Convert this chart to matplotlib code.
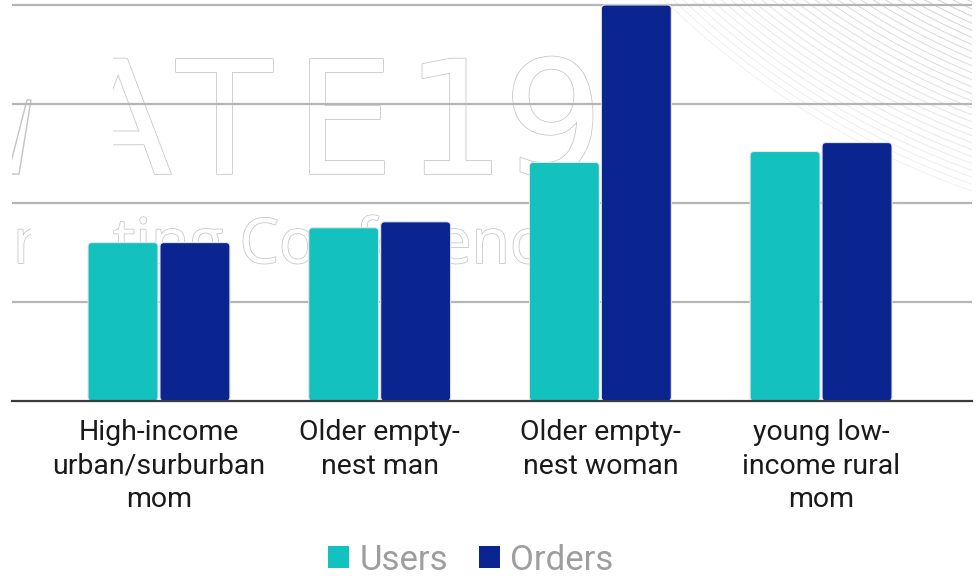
import matplotlib
matplotlib.use("Agg")
import matplotlib.pyplot as plt
import matplotlib.patheffects as pe
import numpy as np
from matplotlib.patches import FancyBboxPatch, Patch, Polygon, Rectangle

plt.rcParams['font.family'] = ['Roboto', 'DejaVu Sans']

# données
categories = ["High-income\nurban/surburban\nmom", "Older empty-\nnest man",
              "Older empty-\nnest woman", "young low-\nincome rural\nmom"]
users = [1.60, 1.75, 2.41, 2.52]
orders = [1.60, 1.81, 4.00, 2.61]
series_names = ["Users", "Orders"]

TEAL = "#13c1bf"
NAVY = "#0a2490"
W, H = 977, 576


def px(x, y):
    # pixels de l'image -> fraction de la figure
    return x / W, 1 - y / H


fig = plt.figure(figsize=(W / 100, H / 100), dpi=100)
ax = fig.add_axes([12 / W, (H - 401) / H, 960 / W, 401 / H])
ax.set_xlim(-0.666, 3.684)
ax.set_ylim(0, 4.05)

# fond décoratif (filigrane)
outline = [pe.Stroke(linewidth=1.1, foreground="#c4c4c4"), pe.Normal()]
for ch, x in zip("ATE19", [64, 176, 294, 405, 503]):
    ax.text(*px(x, 174), ch, transform=fig.transFigure, fontsize=114,
            family="DejaVu Sans", color="white",
            ha="left", va="baseline", zorder=0.1, path_effects=outline)
ax.text(*px(113, 263), "ting Conference", transform=fig.transFigure,
        fontsize=45, family="Open Sans", color="white", ha="left",
        va="baseline", zorder=0.1, path_effects=outline)
ax.text(*px(13, 263), "r", transform=fig.transFigure, fontsize=45,
        family="Open Sans", color="white", ha="left", va="baseline",
        zorder=0.1, path_effects=outline)
# cache blanc sur la gauche
ax.add_patch(Rectangle(px(31, 275), 82 / W, 230 / H, transform=fig.transFigure,
                       facecolor="white", edgecolor="none", zorder=0.15))
ax.add_patch(Polygon([px(8, 174), px(19, 174), px(31, 100), px(27, 100)],
                     closed=True, transform=fig.transFigure, facecolor="white",
                     edgecolor="#c4c4c4", lw=1.0, zorder=0.16))

# arcs en haut à droite
cx, cy = 1250, -600
radii = np.arange(650, 840, 6.5)
for i, r in enumerate(radii):
    t = np.linspace(np.pi / 2, np.pi, 400)
    xs = cx + r * np.cos(t)
    ys = cy + r * np.sin(t)
    fx, fy = px(xs, ys)
    a = 0.85 - 0.6 * i / (len(radii) - 1)
    ax.plot(fx, fy, transform=fig.transFigure, color="#c4c4c4", lw=0.7,
            alpha=a, zorder=0.12)

# barres
x = np.arange(len(categories))
bw = 0.317
off = 0.163
b1 = ax.bar(x - off, users, bw, color=TEAL, zorder=2)
b2 = ax.bar(x + off, orders, bw, color=NAVY, zorder=2)

rs = 0.018
asp = (1 / 99) / (1 / 220.67)
for bars, col in [(b1, TEAL), (b2, NAVY)]:
    for rect in bars:
        bx, by = rect.get_x(), rect.get_y()
        bwid, bh = rect.get_width(), rect.get_height()
        rect.set_visible(False)
        ax.add_patch(FancyBboxPatch((bx, by), bwid, bh,
                                    boxstyle=f"round,pad=0,rounding_size={rs}",
                                    mutation_aspect=asp, facecolor=col,
                                    edgecolor="#e6e6e6", lw=0.8, zorder=2))

# axes
ax.set_yticks([1, 2, 3, 4])
ax.set_yticklabels([])
ax.yaxis.grid(True, color="#b5b5b5", lw=1.6, zorder=0.5)
ax.set_axisbelow(True)
ax.set_xticks(x)
ax.set_xticklabels(categories, fontsize=20.5, color="#1a1a1a", linespacing=1.32)
ax.tick_params(axis="both", length=0)
ax.tick_params(axis="x", pad=13)
for s in ["top", "left", "right"]:
    ax.spines[s].set_visible(False)
ax.spines["bottom"].set_color("#3a3a3a")
ax.spines["bottom"].set_linewidth(1.6)
ax.spines["bottom"].set_zorder(3)
ax.patch.set_alpha(0)

handles = [Patch(facecolor=TEAL, label=series_names[0]),
           Patch(facecolor=NAVY, label=series_names[1])]
fig.legend(handles=handles, loc="center", bbox_to_anchor=px(471, 560),
           ncol=2, frameon=False, fontsize=25, handlelength=0.6,
           handleheight=0.6, handletextpad=0.3, columnspacing=0.9,
           labelcolor="#9e9e9e")

fig.savefig("out.png", dpi=100)
